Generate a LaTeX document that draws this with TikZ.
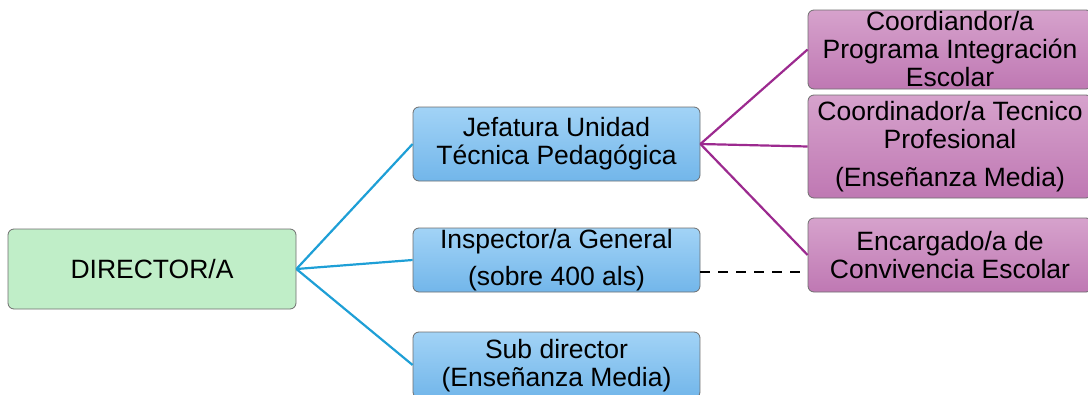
\documentclass[tikz,border=0pt]{standalone}
\usepackage{fontspec}
\setmainfont{Liberation Sans}
\definecolor{greenfill}{HTML}{C0EEC8}
\definecolor{bluetop}{HTML}{A2D3F6}
\definecolor{bluebot}{HTML}{72B6EA}
\definecolor{purptop}{HTML}{D6A2CC}
\definecolor{purpbot}{HTML}{BF78B3}
\definecolor{boxline}{HTML}{6E6E6E}
\definecolor{blueline}{HTML}{1E9FD6}
\definecolor{purpline}{HTML}{9C2A8F}
\tikzset{
  box/.style={rectangle, rounded corners=6pt, draw=boxline, line width=0.8pt,
    align=center, inner sep=0pt, font=\fontsize{26.5}{28}\selectfont, text=black},
  greenbox/.style={box, fill=greenfill, minimum width=288pt, minimum height=80pt},
  bluebox/.style={box, top color=bluetop, bottom color=bluebot, minimum width=287pt},
  purpbox/.style={box, top color=purptop, bottom color=purpbot, minimum width=284pt},
  bconn/.style={draw=blueline, line width=2.2pt},
  pconn/.style={draw=purpline, line width=2.2pt},
  dconn/.style={draw=black, line width=2.2pt, dash pattern=on 10pt off 8pt},
}
\begin{document}
\begin{tikzpicture}[x=1pt,y=-1pt]
\useasboundingbox (0,0) rectangle (1088,394);
\node[greenbox] (dir) at (152,269) {DIRECTOR/A};
\node[bluebox, minimum height=74pt] (jef) at (556.5,144) {Jefatura Unidad\\Técnica Pedagógica};
\node[bluebox, minimum height=64pt] (insp) at (556.5,260) {Inspector/a General\\[9pt](sobre 400 als)};
\node[bluebox, minimum height=66pt] (sub) at (556.5,365) {\strut Sub director\\(Enseñanza Media)};
\node[purpbox, minimum height=79pt] (pie) at (950,49.5) {Coordiandor/a\\Programa Integración\\Escolar};
\node[purpbox, minimum height=103pt] (tec) at (950,146.5) {Coordinador/a Tecnico\\Profesional\\[10pt](Enseñanza Media)};
\node[purpbox, minimum height=74pt] (conv) at (950,255) {Encargado/a de\\Convivencia Escolar};
\coordinate (insp-d) at ([yshift=-12pt]insp.east);
\draw[bconn] (dir.east) -- (jef.west);
\draw[bconn] (dir.east) -- (insp.west);
\draw[bconn] (dir.east) -- (sub.west);
\draw[pconn] (jef.east) -- (pie.west);
\draw[pconn] (jef.east) -- (tec.west);
\draw[pconn] (jef.east) -- (conv.west);
\draw[dconn] (insp-d) -- (insp-d -| conv.west);
\end{tikzpicture}
\end{document}
